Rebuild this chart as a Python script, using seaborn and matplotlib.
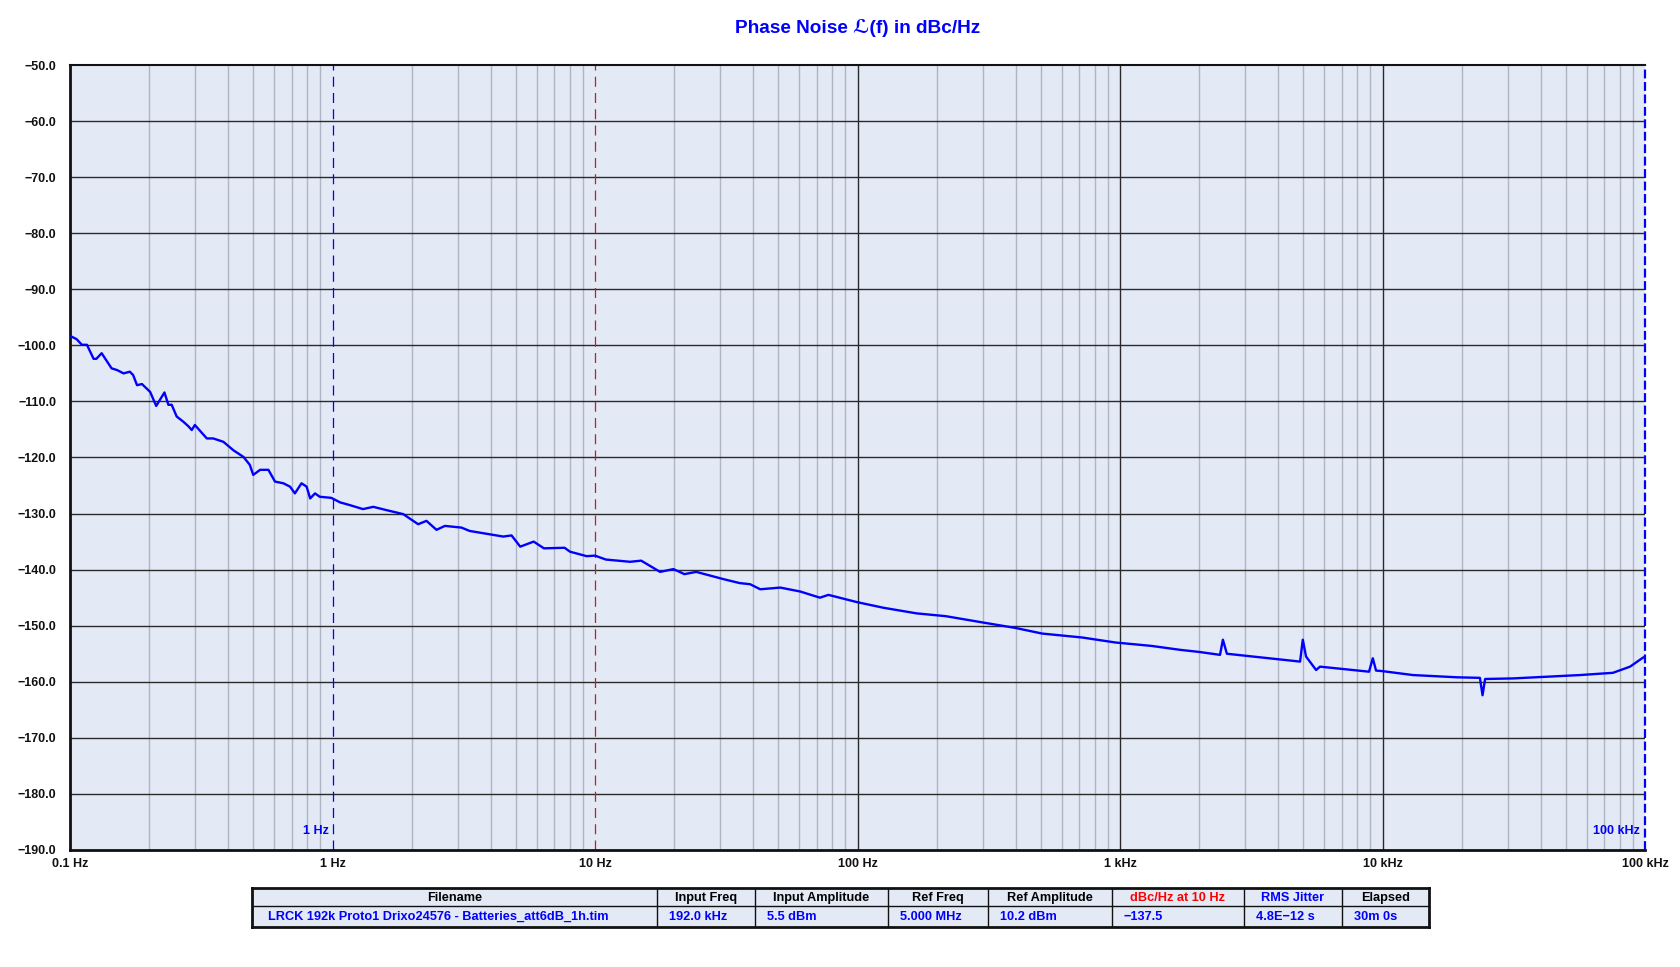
import numpy as np
import pandas as pd
import matplotlib
matplotlib.use("Agg")
import matplotlib.pyplot as plt
from matplotlib.ticker import FixedLocator, NullFormatter
import seaborn as sns

# ---------------- data ----------------
freq_hz = [0.100, 0.106, 0.111, 0.116, 0.123, 0.126, 0.132, 0.144, 0.151, 0.160,
           0.169, 0.174, 0.180, 0.188, 0.202, 0.213, 0.229, 0.237, 0.244, 0.255,
           0.270, 0.282, 0.291, 0.299, 0.332, 0.351, 0.384, 0.419, 0.458, 0.484,
           0.499, 0.530, 0.570, 0.604, 0.650, 0.689, 0.719, 0.762, 0.797, 0.822,
           0.858, 0.894, 0.99, 1.068, 1.166, 1.306, 1.43, 1.61, 1.86, 2.12,
           2.28, 2.49, 2.68, 3.10, 3.33, 3.86, 4.47, 4.81, 5.19, 5.84,
           6.39, 7.66, 8.03, 9.30, 10.0, 11.0, 13.6, 15.0, 17.7, 19.9,
           21.9, 24.3, 30.9, 35.6, 39.0, 42.6, 50.8, 60.5, 71.9, 77.5,
           99.7, 125.6, 168, 217, 298, 400, 505, 717, 963, 1318,
           1693, 2020, 2404, 2466, 2554, 4853, 4970, 5114, 5585, 5780,
           8886, 9185, 9450, 10000, 13060, 19220, 23500, 24050, 24600, 31420,
           56500, 75500, 87700, 97500, 100000]
phase_noise_dbc = [-98.3, -98.9, -99.9, -99.9, -102.4, -102.4, -101.4, -104.1, -104.4, -105.0,
                   -104.7, -105.3, -107.1, -106.9, -108.3, -110.8, -108.4, -110.6, -110.6, -112.7,
                   -113.6, -114.4, -115.1, -114.2, -116.6, -116.6, -117.2, -118.7, -119.9, -121.3,
                   -123.1, -122.2, -122.2, -124.3, -124.6, -125.2, -126.4, -124.6, -125.2, -127.3,
                   -126.4, -127.0, -127.2, -128.0, -128.5, -129.2, -128.8, -129.4, -130.1, -131.9,
                   -131.3, -132.9, -132.2, -132.5, -133.1, -133.6, -134.1, -133.9, -135.9, -135.0,
                   -136.2, -136.1, -136.8, -137.6, -137.5, -138.2, -138.6, -138.4, -140.4, -139.9,
                   -140.8, -140.4, -141.7, -142.4, -142.6, -143.5, -143.2, -143.9, -145.0, -144.5,
                   -145.8, -146.8, -147.8, -148.3, -149.4, -150.4, -151.4, -152.1, -153.0, -153.6,
                   -154.3, -154.7, -155.2, -152.5, -155.0, -156.4, -152.5, -155.5, -157.9, -157.3,
                   -158.2, -155.8, -158.0, -158.1, -158.8, -159.2, -159.3, -162.4, -159.5, -159.4,
                   -158.8, -158.4, -157.3, -155.8, -155.5]

x_tick_values = [0.1, 1, 10, 100, 1000, 10000, 100000]
x_tick_labels = ["0.1 Hz", "1 Hz", "10 Hz", "100 Hz", "1 kHz", "10 kHz", "100 kHz"]
y_tick_values = list(range(-50, -191, -10))
y_tick_labels = ["\u2212%.1f" % abs(v) for v in y_tick_values]

table_headers = ["Filename", "Input Freq", "Input Amplitude", "Ref Freq",
                 "Ref Amplitude", "dBc/Hz at 10 Hz", "RMS Jitter", "Elapsed"]
table_values = ["LRCK 192k Proto1 Drixo24576 - Batteries_att6dB_1h.tim", "192.0 kHz",
                "5.5 dBm", "5.000 MHz", "10.2 dBm", "\u2212137.5", "4.8E\u221212 s", "30m 0s"]
header_colors = ["#000000", "#000000", "#000000", "#000000", "#000000",
                 "#FF0000", "#0000FF", "#000000"]

# ---------------- style ----------------
sns.set_style("white")
plt.rcParams["font.family"] = ["Liberation Sans", "DejaVu Sans"]

W, H = 1680, 967
fig = plt.figure(figsize=(W / 100, H / 100), dpi=100)

def fx(px):
    return px / W

def fy(py):
    return 1 - py / H

ax_l, ax_r, ax_t, ax_b = 70, 1645, 65, 850
ax = fig.add_axes([fx(ax_l), fy(ax_b), fx(ax_r - ax_l), (ax_b - ax_t) / H])
ax.set_facecolor("#E3E9F5")

df = pd.DataFrame({"freq": freq_hz, "pn": phase_noise_dbc})
ax.set_xscale("log")

# grid
minor = [m * 10.0 ** e for e in range(-1, 5) for m in range(2, 10)]
for v in minor:
    ax.axvline(v, color="#AEB5C3", lw=1.0, zorder=1)
for v in x_tick_values[3:-1]:
    ax.axvline(v, color="#2A2A2A", lw=1.0, zorder=1.5)
for v in y_tick_values[1:-1]:
    ax.axhline(v, color="#2A2A2A", lw=1.0, zorder=1.5)

# markers
ax.axvline(1, color="#0000FF", lw=0.9, ls=(0, (8, 5)), zorder=2)
ax.axvline(10, color="#C02020", lw=0.9, ls=(0, (8, 5)), zorder=2)
ax.axvline(100000, color="#0000FF", lw=1.6, ls=(0, (4, 1.6)), zorder=4, clip_on=False)

sns.lineplot(data=df, x="freq", y="pn", ax=ax, color="#0000FF", lw=1.7,
             estimator=None, sort=False, zorder=3)

ax.text(0.965, -186.6, "1 Hz", color="#0000FF", fontsize=9, fontweight="bold",
        ha="right", va="center")
ax.text(96000, -186.6, "100 kHz", color="#0000FF", fontsize=9, fontweight="bold",
        ha="right", va="center")

ax.set_xlim(0.1, 100000)
ax.set_ylim(-190, -50)
ax.xaxis.set_major_locator(FixedLocator(x_tick_values))
ax.xaxis.set_minor_locator(FixedLocator(minor))
ax.xaxis.set_minor_formatter(NullFormatter())
ax.set_xticklabels(x_tick_labels)
ax.set_yticks(y_tick_values)
ax.set_yticklabels(y_tick_labels)
ax.tick_params(axis="both", which="both", length=0)
ax.tick_params(axis="x", pad=6)
ax.tick_params(axis="y", pad=10)
for lab in ax.get_xticklabels() + ax.get_yticklabels():
    lab.set_fontsize(9)
    lab.set_fontweight("bold")
    lab.set_color("#111111")
ax.set_xlabel("")
ax.set_ylabel("")

for s in ["left", "bottom"]:
    ax.spines[s].set_color("#111111")
    ax.spines[s].set_linewidth(2.0)
ax.spines["top"].set_color("#111111")
ax.spines["top"].set_linewidth(1.5)
ax.spines["right"].set_visible(False)

fig.text(fx((ax_l + ax_r) / 2), fy(28), "Phase Noise \u2112(f) in dBc/Hz", color="#0000FF",
         fontsize=13.7, fontweight="bold", ha="center", va="center",
         family=["Liberation Sans", "DejaVu Sans"])

# ---------------- table ----------------
t_l, t_r, t_t, t_b = 252, 1429, 888, 927
tax = fig.add_axes([fx(t_l), fy(t_b), fx(t_r - t_l), (t_b - t_t) / H])
tax.set_xlim(t_l, t_r)
tax.set_ylim(t_b, t_t)
tax.set_facecolor("#E3E9F5")
tax.set_xticks([])
tax.set_yticks([])
for s in tax.spines.values():
    s.set_linewidth(2.0)
    s.set_color("#111111")
seps = [t_l, 657, 755, 888, 988, 1112, 1244, 1342, t_r]
mid = 906
tax.axhline(mid, color="#111111", lw=1.0)
for sx in seps[1:-1]:
    tax.axvline(sx, color="#111111", lw=1.0)
tfont = ["Liberation Sans", "DejaVu Sans"]
for i in range(len(table_headers)):
    x0, x1 = seps[i], seps[i + 1]
    tax.text((x0 + x1) / 2, (t_t + mid) / 2 + 1.0, table_headers[i], ha="center", va="center",
             fontsize=9.2, fontweight="bold", color=header_colors[i], family=tfont)
    tax.text(x0 + (16 if i == 0 else 12), (mid + t_b) / 2 + 0.5, table_values[i],
             ha="left", va="center", fontsize=9.2, fontweight="bold", color="#0000FF",
             family=tfont)

fig.savefig("out.png", dpi=100)
